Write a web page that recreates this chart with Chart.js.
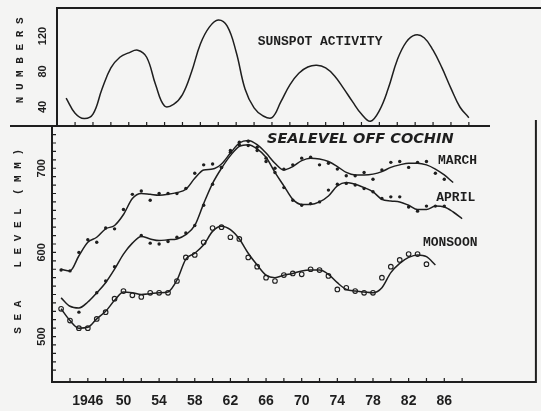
<!DOCTYPE html>
<html lang="en">
<head>
<meta charset="UTF-8">
<title>Sea level off Cochin and sunspot activity</title>
<script src="https://cdn.jsdelivr.net/npm/chart.js@4.4.1/dist/chart.umd.min.js"></script>
<style>
  body { margin: 0; background: #f4f4f3; }
  #page { position: relative; width: 541px; height: 411px; overflow: hidden; }
  #page canvas { position: absolute; top: 0; }
  #sunChart { left: 5px; }
  #seaChart { left: 0; }
</style>
</head>
<body>
<div id="page">
  <canvas id="sunChart" width="541" height="135"></canvas>
  <canvas id="seaChart" width="541" height="411"></canvas>
</div>
<script>
// values
const years = [1943, 1944, 1945, 1946, 1947, 1948, 1949, 1950, 1951, 1952, 1953, 1954, 1955, 1956, 1957,
  1958, 1959, 1960, 1961, 1962, 1963, 1964, 1965, 1966, 1967, 1968, 1969, 1970, 1971, 1972, 1973, 1974,
  1975, 1976, 1977, 1978, 1979, 1980, 1981, 1982, 1983, 1984, 1985, 1986, 1987, 1988];

const sunspotNumbers = [50, 33, 27, 32, 60, 84, 96, 101, 104, 96, 65, 41, 43, 54, 79, 111, 130, 138, 131, 102,
  60, 39, 30, 28, 46, 65, 78, 85, 87, 84, 75, 61, 46, 32, 24, 36, 61, 93, 113, 121, 118, 104, 84, 61, 40, 28];

// sea level (mm): smoothed curve and yearly observations
const marchCurve = [580, 578, 596, 612, 618, 628, 632, 645, 664, 670, 669, 668, 669, 671, 675, 688, 698, 699,
  705, 718, 730, 733, 728, 718, 706, 698, 702, 709, 712, 711, 708, 702, 695, 692, 692, 693, 696, 701, 704,
  706, 706, 704, 699, 692, 683, null];
const marchPoints = [579, 578, 600, 615, 612, 629, 628, 651, 669, 673, 662, 670, 670, 670, 676, 694, 704, 705,
  701, 719, 731, 732, 725, 708, 700, 699, 704, 712, 713, 704, 706, 699, 691, 691, 695, 687, 698, 707, 708,
  701, 707, 708, 694, 687, null, null];

const aprilCurve = [546, 536, 534, 541, 552, 564, 580, 598, 611, 619, 616, 614, 615, 616, 621, 632, 658, 682,
  700, 715, 726, 728, 723, 713, 695, 679, 663, 657, 657, 660, 667, 679, 683, 681, 677, 672, 663, 661, 660,
  656, 651, 651, 655, 654, 648, 640];
const aprilPoints = [null, null, 529, null, 552, 566, 583, null, null, 620, 611, 610, 613, 618, 623, 632, 656,
  681, 701, 721, 728, 727, 721, 712, 695, 677, 662, 656, 658, 660, 674, 681, 682, 680, 676, 672, 664, 666,
  666, 654, 649, 655, 655, 655, null, null];

const monsoonCurve = [533, 519, 510, 511, 521, 530, 543, 553, 552, 550, 551, 552, 553, 567, 592, 599, 609, 625,
  631, 627, 616, 599, 585, 573, 570, 573, 575, 578, 579, 579, 574, 564, 556, 554, 553, 552, 558, 576, 587,
  594, 597, 595, 585, null, null, null];
const monsoonPoints = [533, 519, 510, 510, 521, 529, 545, 554, 549, 547, 552, 552, 552, 566, 594, 597, 612,
  629, 630, 618, 616, 594, 583, 570, 566, 573, 575, 574, 580, 579, 572, 556, 558, 554, 552, 552, 570, 583,
  591, 598, 598, 586, null, null, null, null];

const yearTicks = [1946, 1950, 1954, 1958, 1962, 1966, 1970, 1974, 1978, 1982, 1986];
const yearTickLabels = ['1946', '50', '54', '58', '62', '66', '70', '74', '78', '82', '86'];
const minorYears = [1944, 1946, 1948, 1950, 1952, 1954, 1956, 1958, 1960, 1962, 1964, 1966, 1968, 1970,
  1972, 1974, 1976, 1978, 1980, 1982, 1984, 1986, 1988];
const seaTicks = [500, 600, 700];
const seaMinor = [460, 470, 480, 490, 500, 510, 520, 530, 540, 550, 560, 570, 580, 590, 600, 610, 620, 630,
  640, 650, 660, 670, 680, 690, 700, 710, 720, 730, 740];
const sunTicks = [40, 80, 120];

const INK = '#1e1e1e';
const BG = '#f4f4f3';
const MONO = '"Liberation Mono", "DejaVu Sans Mono", monospace';
const SANS = '"Liberation Sans", Arial, sans-serif';

function pairs(values) {
    return years.map((yr, i) => ({ x: yr, y: values[i] }));
}
function curve(values, smooth) {
    const ds = { data: pairs(values), borderColor: INK, borderWidth: 1.5, pointRadius: 0, fill: false };
    if (smooth) ds.tension = 0.4;
    else ds.cubicInterpolationMode = 'monotone';
    return ds;
}
function dots(values, hollow) {
    return { data: pairs(values), showLine: false, pointRadius: hollow ? 2.3 : 1.7,
             pointBorderWidth: hollow ? 1.1 : 0, pointBorderColor: INK,
             pointBackgroundColor: hollow ? BG : INK };
}
function tickMarks(ctx, list, scale, fixed, len, vertical) {
    ctx.beginPath();
    list.forEach(v => {
        const p = scale.getPixelForValue(v);
        if (vertical) { ctx.moveTo(fixed, p); ctx.lineTo(fixed + len, p); }
        else { ctx.moveTo(p, fixed); ctx.lineTo(p, fixed - len); }
    });
    ctx.stroke();
}
// fixed axis sizes so both panels line up with the scan
function fixWidth(w) {
    return s => { s.width = w; s.paddingTop = 0; s.paddingBottom = 0; };
}
function fixHeight(h) {
    return s => { s.height = h; s.paddingLeft = 0; s.paddingRight = 0; };
}

// frame pieces, inward ticks and the notes on the top panel
const sunDecor = {
    id: 'sunDecor',
    afterDraw(chart) {
        const { ctx, chartArea: a, scales: { x, y } } = chart;
        ctx.save();
        ctx.strokeStyle = INK;
        ctx.lineWidth = 2;
        ctx.beginPath();
        ctx.moveTo(a.left - 1, a.top);
        ctx.lineTo(chart.width, a.top);
        ctx.moveTo(5, a.bottom);
        ctx.lineTo(485, a.bottom);
        ctx.stroke();
        ctx.lineWidth = 1.2;
        tickMarks(ctx, minorYears, x, a.bottom, 4, false);
        ctx.fillStyle = INK;
        ctx.font = 'bold 13px ' + MONO;
        ctx.textBaseline = 'middle';
        ctx.fillText('SUNSPOT ACTIVITY', x.getPixelForValue(1964.4), y.getPixelForValue(113));
        ctx.restore();
    }
};

const seaDecor = {
    id: 'seaDecor',
    afterDraw(chart) {
        const { ctx, chartArea: a, scales: { x, y } } = chart;
        ctx.save();
        ctx.strokeStyle = INK;
        ctx.lineWidth = 2;
        ctx.beginPath();
        ctx.moveTo(a.right, a.top - 7);
        ctx.lineTo(a.right, a.bottom + 1);
        ctx.stroke();
        ctx.lineWidth = 1.2;
        tickMarks(ctx, minorYears, x, a.bottom, 4, false);
        tickMarks(ctx, seaMinor, y, a.left, 4, true);
        ctx.fillStyle = INK;
        ctx.textBaseline = 'middle';
        ctx.font = 'italic bold 14.5px "DejaVu Sans", sans-serif';
        ctx.fillText('SEALEVEL OFF COCHIN', x.getPixelForValue(1966.1), y.getPixelForValue(734));
        ctx.font = 'bold 13px ' + MONO;
        ctx.fillText('MARCH', x.getPixelForValue(1985.3), y.getPixelForValue(709));
        ctx.fillText('APRIL', x.getPixelForValue(1985.1), y.getPixelForValue(665));
        ctx.fillText('MONSOON', x.getPixelForValue(1983.6), y.getPixelForValue(611));
        ctx.restore();
    }
};

const quiet = { legend: { display: false }, tooltip: { enabled: false } };

new Chart(document.getElementById('sunChart'), {
    type: 'line',
    data: { datasets: [curve(sunspotNumbers, true)] },
    options: {
        responsive: false,
        animation: false,
        layout: { padding: { top: 8, left: 0, right: 0, bottom: 0 } },
        plugins: quiet,
        scales: {
            x: {
                type: 'linear', min: 1941.98, max: 1996.62,
                afterFit: fixHeight(9),
                grid: { display: false }, border: { display: false },
                ticks: { display: false }
            },
            y: {
                min: 18.6, max: 151.5,
                afterBuildTicks: s => { s.ticks = sunTicks.map(v => ({ value: v })); },
                afterFit: fixWidth(52),
                grid: { display: false },
                border: { display: true, color: INK, width: 2 },
                ticks: { minRotation: 90, maxRotation: 90, crossAlign: 'center', padding: -3, color: INK,
                         font: { family: SANS, size: 11, weight: 'bold' } },
                title: { display: true, text: '  N U M B E R S', color: INK,
                         font: { family: MONO, size: 11, weight: 'bold' }, padding: { top: 9, bottom: 0 } }
            }
        }
    },
    plugins: [sunDecor]
});

new Chart(document.getElementById('seaChart'), {
    type: 'line',
    data: {
        datasets: [
            curve(marchCurve), dots(marchPoints, false),
            curve(aprilCurve), dots(aprilPoints, false),
            curve(monsoonCurve), dots(monsoonPoints, true)
        ]
    },
    options: {
        responsive: false,
        animation: false,
        layout: { padding: { top: 127, left: 0, right: 3, bottom: 0 } },
        plugins: quiet,
        scales: {
            x: {
                type: 'linear', min: 1941.98, max: 1996.28,
                afterBuildTicks: s => { s.ticks = yearTicks.map(v => ({ value: v })); },
                afterFit: fixHeight(29),
                grid: { display: false },
                border: { display: true, color: INK, width: 2 },
                ticks: { autoSkip: false, maxRotation: 0, padding: 3, color: INK,
                         font: { family: SANS, size: 14, weight: 'bold' },
                         callback: (v, i) => yearTickLabels[i] }
            },
            y: {
                min: 446, max: 749,
                afterBuildTicks: s => { s.ticks = seaTicks.map(v => ({ value: v })); },
                afterFit: fixWidth(52),
                grid: { display: false },
                border: { display: true, color: INK, width: 2 },
                ticks: { minRotation: 90, maxRotation: 90, crossAlign: 'center', padding: -7, color: INK,
                         font: { family: SANS, size: 11, weight: 'bold' } },
                title: { display: true, text: '    S E A     L E V E L  ( M M )', color: INK,
                         font: { family: MONO, size: 11, weight: 'bold' }, padding: { top: 12, bottom: 0 } }
            }
        }
    },
    plugins: [seaDecor]
});
</script>
</body>
</html>
